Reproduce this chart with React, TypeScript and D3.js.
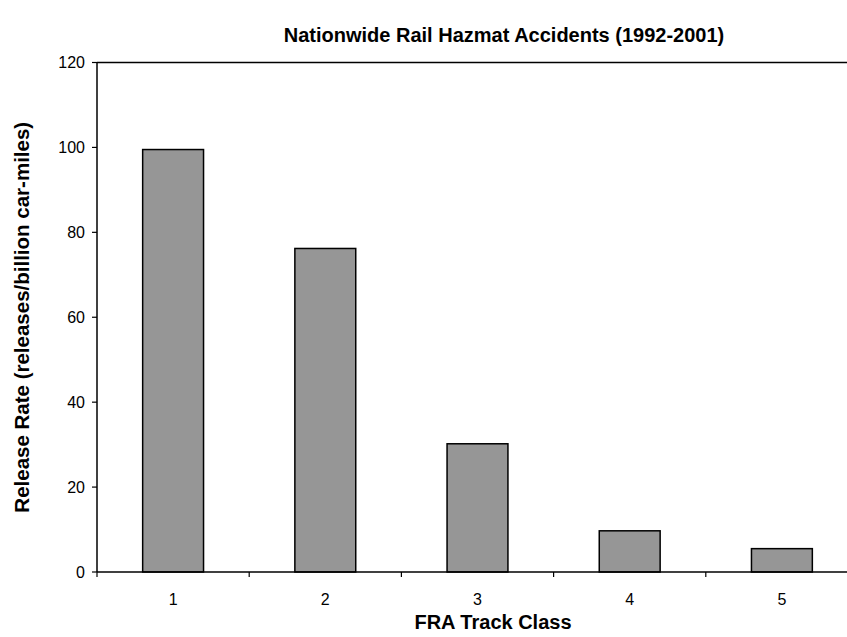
import * as d3 from "d3";

const categories = ["1", "2", "3", "4", "5"];
const releaseRates = [99.5, 76.2, 30.2, 9.7, 5.5];
const yTicks = [0, 20, 40, 60, 80, 100, 120];

const W = 847;
const H = 637;
const margin = { left: 97, top: 62.5, right: -11, bottom: 65 };

export default function App() {
    const x = d3
        .scaleBand()
        .domain(categories)
        .range([margin.left, W - margin.right])
        .paddingInner(0.6)
        .paddingOuter(0.3);
    const step = x.step();
    const x0 = margin.left;

    const y = d3
        .scaleLinear()
        .domain([0, 120])
        .range([H - margin.bottom, margin.top]);

    const font = "'Liberation Sans', Arial, sans-serif";

    return (
        <svg
            width={W}
            height={H}
            style={{ position: "absolute", left: 0, top: 0, display: "block", background: "#fff" }}
            fontFamily={font}
        >
            <text x={504} y={42} textAnchor="middle" fontSize={20} fontWeight="bold">
                Nationwide Rail Hazmat Accidents (1992-2001)
            </text>

            {categories.map((c, i) => (
                <rect
                    key={c}
                    x={x(c)}
                    width={x.bandwidth()}
                    y={y(releaseRates[i])}
                    height={y(0) - y(releaseRates[i])}
                    fill="#969696"
                    stroke="#000"
                    strokeWidth={1.5}
                />
            ))}

            {/* frame */}
            <line x1={x0} x2={W - margin.right} y1={y(120)} y2={y(120)} stroke="#000" strokeWidth={1.5} />
            <line x1={x0} x2={x0} y1={y(120)} y2={y(0)} stroke="#000" strokeWidth={1.5} />
            <line x1={x0} x2={W - margin.right} y1={y(0)} y2={y(0)} stroke="#000" strokeWidth={1.5} />

            {yTicks.map((t) => (
                <g key={t}>
                    <line x1={x0 - 5} x2={x0} y1={y(t)} y2={y(t)} stroke="#000" strokeWidth={1.2} />
                    <text x={x0 - 12} y={y(t)} dy="0.36em" textAnchor="end" fontSize={16}>
                        {t}
                    </text>
                </g>
            ))}

            {d3.range(categories.length + 1).map((i) => (
                <line
                    key={i}
                    x1={x0 + i * step}
                    x2={x0 + i * step}
                    y1={y(0)}
                    y2={y(0) + 5}
                    stroke="#000"
                    strokeWidth={1.2}
                />
            ))}

            {categories.map((c) => (
                <text
                    key={c}
                    x={(x(c) ?? 0) + x.bandwidth() / 2}
                    y={605}
                    textAnchor="middle"
                    fontSize={16}
                >
                    {c}
                </text>
            ))}

            <text x={493} y={629} textAnchor="middle" fontSize={20} fontWeight="bold">
                FRA Track Class
            </text>
            <text
                transform={`translate(29, ${(y(0) + y(120)) / 2}) rotate(-90)`}
                textAnchor="middle"
                fontSize={20.5}
                fontWeight="bold"
            >
                Release Rate (releases/billion car-miles)
            </text>
        </svg>
    );
}
